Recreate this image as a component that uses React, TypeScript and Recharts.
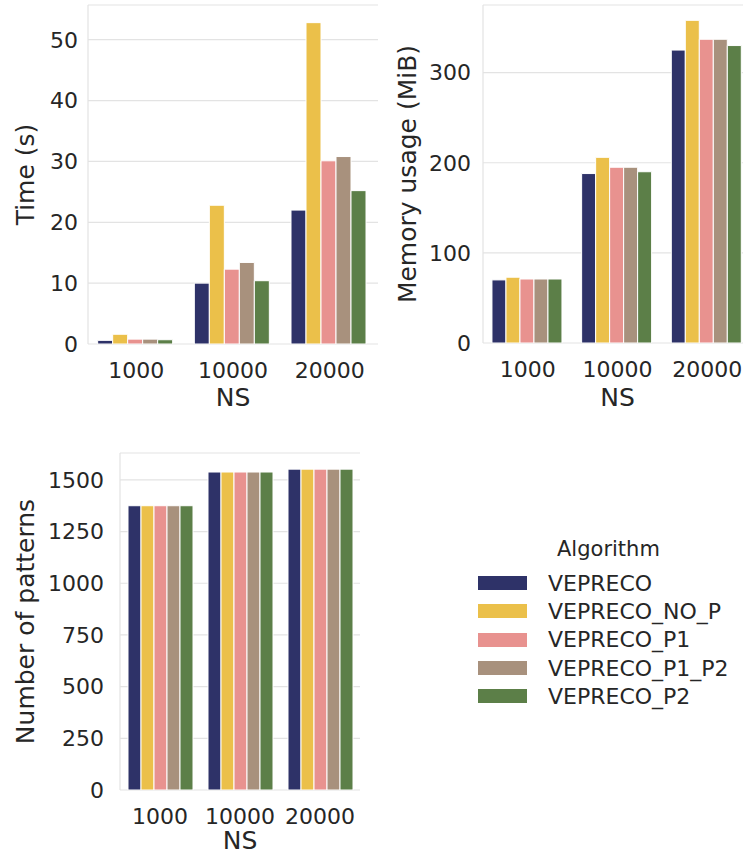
import React from 'react'
import { BarChart, Bar, XAxis, YAxis, CartesianGrid, Legend } from 'recharts'

const categories = ['1000', '10000', '20000']
const algorithms = ['VEPRECO', 'VEPRECO_NO_P', 'VEPRECO_P1', 'VEPRECO_P1_P2', 'VEPRECO_P2']
const colors = ['#2e3268', '#ebc04a', '#e8928f', '#a8917d', '#5c7f48']

// one row per algorithm, values for NS = 1000, 10000, 20000
const timeSeconds = [
  [0.6, 10.0, 22.0],
  [1.6, 22.8, 52.8],
  [0.8, 12.3, 30.1],
  [0.8, 13.4, 30.8],
  [0.7, 10.4, 25.2],
]
const memoryMiB = [
  [70, 188, 325],
  [73, 206, 358],
  [71, 195, 337],
  [71, 195, 337],
  [71, 190, 330],
]
const patternCount = [
  [1375, 1538, 1552],
  [1375, 1538, 1552],
  [1375, 1538, 1552],
  [1375, 1538, 1552],
  [1375, 1538, 1552],
]

const timeTicks = [0, 10, 20, 30, 40, 50]
const memoryTicks = [0, 100, 200, 300]
const patternTicks = [0, 250, 500, 750, 1000, 1250, 1500]

const FONT = '"DejaVu Sans", sans-serif'
const TEXT = '#262626'
const GRID = '#e3e3e3'
const TICK_SIZE = 22
const LABEL_SIZE = 25

function toRows(values: number[][]) {
  return categories.map((ns, i) => {
    const row: Record<string, string | number> = { ns }
    algorithms.forEach((a, j) => {
      row[a] = values[j][i]
    })
    return row
  })
}

interface PanelProps {
  rows: Record<string, string | number>[]
  left: number
  top: number
  width: number
  height: number
  margin: { top: number; right: number; bottom: number; left: number }
  yWidth: number
  xHeight: number
  xLabelOffset: number
  domain: [number, number]
  ticks: number[]
  yLabel: string
  yLabelOffset: number
  yTickMargin: number
  withLegend?: boolean
}

function LegendBox() {
  return (
    <div style={{ fontFamily: FONT, color: TEXT, fontSize: 22 }}>
      <div style={{ marginLeft: 79, height: 39, lineHeight: '39px', fontSize: 21 }}>Algorithm</div>
      {algorithms.map((a, i) => (
        <div key={a} style={{ display: 'flex', alignItems: 'center', height: 28.3 }}>
          <span style={{ display: 'inline-block', width: 49, height: 14, background: colors[i] }} />
          <span style={{ marginLeft: 21 }}>{a}</span>
        </div>
      ))}
    </div>
  )
}

function Panel(p: PanelProps) {
  const labelText = { fontSize: LABEL_SIZE, fill: TEXT, fontFamily: FONT }
  return (
    <div style={{ position: 'absolute', left: p.left, top: p.top }}>
      <BarChart
        width={p.width}
        height={p.height}
        data={p.rows}
        margin={p.margin}
        barCategoryGap="10%"
        barGap={0}
      >
        <CartesianGrid vertical={false} stroke={GRID} strokeWidth={1.2} />
        <XAxis
          dataKey="ns"
          height={p.xHeight}
          tickLine={false}
          axisLine={false}
          tickMargin={12}
          tick={{ fontSize: TICK_SIZE, fill: TEXT, fontFamily: FONT }}
          label={{
            value: 'NS',
            position: 'insideBottom',
            offset: p.xLabelOffset,
            ...labelText,
            style: labelText,
          }}
        />
        <YAxis
          width={p.yWidth}
          domain={p.domain}
          ticks={p.ticks}
          allowDataOverflow
          tickLine={false}
          axisLine={{ stroke: GRID, strokeWidth: 1.2 }}
          tickMargin={p.yTickMargin}
          tick={{ fontSize: TICK_SIZE, fill: TEXT, fontFamily: FONT }}
          label={{
            value: p.yLabel,
            angle: -90,
            position: 'insideLeft',
            offset: p.yLabelOffset,
            ...labelText,
            style: { ...labelText, textAnchor: 'middle' },
          }}
        />
        {algorithms.map((a, i) => (
          <Bar
            key={a}
            dataKey={a}
            name={a}
            fill={colors[i]}
            stroke="#ffffff"
            strokeWidth={1}
            isAnimationActive={false}
          />
        ))}
        {p.withLegend && (
          <Legend
            layout="horizontal"
            align="center"
            verticalAlign="middle"
            wrapperStyle={{ left: 478, top: 100, width: 265 }}
            content={() => <LegendBox />}
          />
        )}
      </BarChart>
    </div>
  )
}

export default function App() {
  return (
    <div
      style={{
        position: 'absolute',
        left: 0,
        top: 0,
        width: 743,
        height: 856,
        overflow: 'hidden',
        background: '#ffffff',
      }}
    >
      <Panel
        rows={toRows(timeSeconds)}
        left={0}
        top={0}
        width={390}
        height={422}
        margin={{ top: 5, right: 12, bottom: 12, left: 0 }}
        yWidth={88}
        xHeight={66}
        xLabelOffset={4}
        domain={[0, 55.7]}
        ticks={timeTicks}
        yLabel="Time (s)"
        yLabelOffset={25}
        yTickMargin={4}
      />
      <Panel
        rows={toRows(memoryMiB)}
        left={390}
        top={0}
        width={370}
        height={422}
        margin={{ top: 5, right: 8, bottom: 12, left: 0 }}
        yWidth={93}
        xHeight={67}
        xLabelOffset={4}
        domain={[0, 375]}
        ticks={memoryTicks}
        yLabel="Memory usage (MiB)"
        yLabelOffset={17}
        yTickMargin={6}
      />
      <Panel
        rows={toRows(patternCount)}
        left={0}
        top={430}
        width={743}
        height={426}
        margin={{ top: 23, right: 383, bottom: 4, left: 0 }}
        yWidth={120}
        xHeight={62}
        xLabelOffset={3}
        domain={[0, 1630]}
        ticks={patternTicks}
        yLabel="Number of patterns"
        yLabelOffset={25}
        yTickMargin={10}
        withLegend
      />
    </div>
  )
}
